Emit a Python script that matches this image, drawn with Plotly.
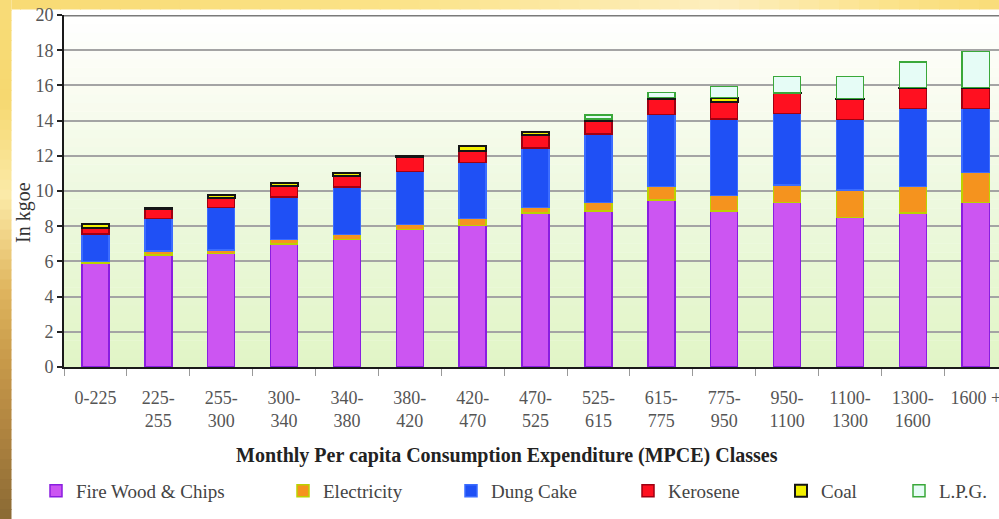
import plotly.graph_objects as go

# MPCE classes and household energy use per fuel (kgoe)
categories = ["0-225", "225-255", "255-300", "300-340", "340-380", "380-420",
              "420-470", "470-525", "525-615", "615-775", "775-950", "950-1100",
              "1100-1300", "1300-1600", "1600 +"]
tick_labels = ["0-225", "225-<br>255", "255-<br>300", "300-<br>340", "340-<br>380",
               "380-<br>420", "420-<br>470", "470-<br>525", "525-<br>615", "615-<br>775",
               "775-<br>950", "950-<br>1100", "1100-<br>1300", "1300-<br>1600", "1600 +"]

fire_wood = [5.9, 6.35, 6.45, 7.0, 7.25, 7.8, 8.05, 8.75, 8.85, 9.5, 8.85, 9.35, 8.5, 8.75, 9.35]
electricity = [0.1, 0.25, 0.2, 0.25, 0.28, 0.3, 0.38, 0.3, 0.5, 0.75, 0.9, 1.0, 1.55, 1.5, 1.7]
dung_cake = [1.55, 1.85, 2.4, 2.4, 2.7, 3.0, 3.2, 3.4, 3.9, 4.1, 4.35, 4.05, 4.0, 4.45, 3.65]
kerosene = [0.35, 0.55, 0.55, 0.65, 0.65, 0.85, 0.65, 0.75, 0.7, 0.9, 0.95, 1.15, 1.15, 1.15, 1.15]
coal = [0.2, 0.05, 0.2, 0.15, 0.15, 0.05, 0.28, 0.15, 0.15, 0.05, 0.25, 0.03, 0.05, 0.03, 0.03]
lpg = [None, None, None, None, None, None, None, None, 0.23, 0.3, 0.65, 0.92, 1.25, 1.45, 2.05]

y_ticks = list(range(0, 21, 2))

W, H = 999, 519
ML, MR, MT, MB = 64, 0, 15, 152
PW, PH = W - ML - MR, H - MT - MB


def px_x(px):
    return (px - ML) / PW


def px_y(py):
    return (H - MB - py) / PH


def hex_rgb(h):
    h = h.lstrip("#")
    return tuple(int(h[i:i + 2], 16) for i in (0, 2, 4))


def ramp(stops, t):
    for (p0, c0), (p1, c1) in zip(stops, stops[1:]):
        if p0 <= t <= p1:
            f = 0 if p1 == p0 else (t - p0) / (p1 - p0)
            a, b = hex_rgb(c0), hex_rgb(c1)
            return "rgb(%d,%d,%d)" % tuple(round(a[i] + (b[i] - a[i]) * f) for i in range(3))
    return stops[-1][1]


shapes = []

# soft green-to-white plot background
bg_stops = [(0, "#e1f5c6"), (10, "#eef9e0"), (16, "#fafcf2"), (20, "#ffffff")]
n = 40
for i in range(n):
    y0 = 20 * i / n
    y1 = 20 * (i + 1) / n
    shapes.append(dict(type="rect", xref="paper", yref="y", x0=0, x1=1.01, y0=y0, y1=y1 + 0.02,
                       fillcolor=ramp(bg_stops, (y0 + y1) / 2), line=dict(width=0), layer="below"))

# golden frame strips along the left and top edges
left_stops = [(0, "#f8dc78"), (100, "#f6d870"), (195, "#fbeaa8"), (235, "#f1d488"),
              (290, "#dfb55e"), (360, "#c89a4a"), (430, "#b08440"), (519, "#8a6a34")]
m = 52
for i in range(m):
    py0 = H * i / m
    py1 = H * (i + 1) / m
    shapes.append(dict(type="rect", xref="paper", yref="paper",
                       x0=px_x(0), x1=px_x(11.5), y0=px_y(py1 + 1), y1=px_y(py0),
                       fillcolor=ramp(left_stops, (py0 + py1) / 2), line=dict(width=0), layer="below"))
top_stops = [(0, "#f8da74"), (400, "#fbe388"), (720, "#fdeebe"), (900, "#fbe288"), (999, "#f9dc78")]
k = 50
for i in range(k):
    px0 = W * i / k
    px1 = W * (i + 1) / k
    shapes.append(dict(type="rect", xref="paper", yref="paper",
                       x0=px_x(max(px0, 11.5)), x1=px_x(px1 + 1), y0=px_y(9.5), y1=px_y(0),
                       fillcolor=ramp(top_stops, (px0 + px1) / 2), line=dict(width=0), layer="below"))

# heavier rule along the top of the plot
shapes.append(dict(type="line", xref="paper", yref="y", x0=0, x1=1, y0=20, y1=20,
                   line=dict(color="#7a7a7a", width=3), layer="above"))

series = [
    ("Fire Wood & Chips", fire_wood, "#cc55f2", "#8a1ee0", 1.5, "legend"),
    ("Electricity", electricity, "#f5931e", "#bcd200", 1.5, "legend2"),
    ("Dung Cake", dung_cake, "#1f50f5", "#3b6cff", 1.5, "legend3"),
    ("Kerosene", kerosene, "#ff1020", "#a00012", 1.5, "legend4"),
    ("Coal", coal, "#f2f000", "#151515", 2, "legend5"),
    ("L.P.G.", lpg, "#e6fcf6", "#3aa83a", 1.5, "legend6"),
]

fig = go.Figure()
for name, vals, fill, edge, lw, lg in series:
    fig.add_trace(go.Bar(x=categories, y=vals, name=name, legend=lg,
                         marker=dict(color=fill, line=dict(color=edge, width=lw))))

serif = "Liberation Serif"
legend_x = [36, 283, 451, 628, 781, 899]
legend_common = dict(orientation="h", xref="container", yref="container", xanchor="left",
                     yanchor="middle", y=1 - 491 / H, bgcolor="rgba(0,0,0,0)",
                     font=dict(family=serif, size=19, color="#444444"))
legend_layout = {}
for i, x in enumerate(legend_x):
    key = "legend" if i == 0 else "legend%d" % (i + 1)
    legend_layout[key] = dict(legend_common, x=x / W)

fig.update_layout(
    width=W, height=H,
    margin=dict(l=ML, r=MR, t=MT, b=MB, pad=0),
    paper_bgcolor="#ffffff",
    plot_bgcolor="#ffffff",
    barmode="stack",
    bargap=0.57,
    showlegend=True,
    shapes=shapes,
    xaxis=dict(type="category", range=[-0.5, 14.37], tickvals=categories, ticktext=tick_labels,
               tickson="boundaries", ticks="outside", ticklen=7, tickcolor="#999999", tickwidth=1,
               ticklabelstandoff=13,
               showline=True, linecolor="#1a1a1a", linewidth=2, showgrid=False, zeroline=False,
               tickfont=dict(family=serif, size=18, color="#555555"), automargin=False),
    yaxis=dict(range=[0, 20], tickvals=y_ticks, ticks="outside", ticklen=5, tickcolor="#222222",
               tickwidth=1.5, showline=True, linecolor="#1a1a1a", linewidth=2,
               showgrid=True, gridcolor="#a4a4a4", gridwidth=1.6, zeroline=False,
               tickfont=dict(family=serif, size=18, color="#555555"), automargin=False),
    annotations=[
        dict(text="In kgoe", xref="paper", yref="paper", x=px_x(23), y=px_y(213), textangle=-90,
             xanchor="center", yanchor="middle",
             showarrow=False, font=dict(family=serif, size=20, color="#333333")),
        dict(text="<b>Monthly Per capita Consumption Expenditure (MPCE) Classes</b>",
             xref="paper", yref="paper", x=px_x(507), y=px_y(455), xanchor="center", yanchor="middle",
             showarrow=False, font=dict(family=serif, size=20, color="#222222")),
    ],
    **legend_layout,
)

fig.write_html("out.html")
